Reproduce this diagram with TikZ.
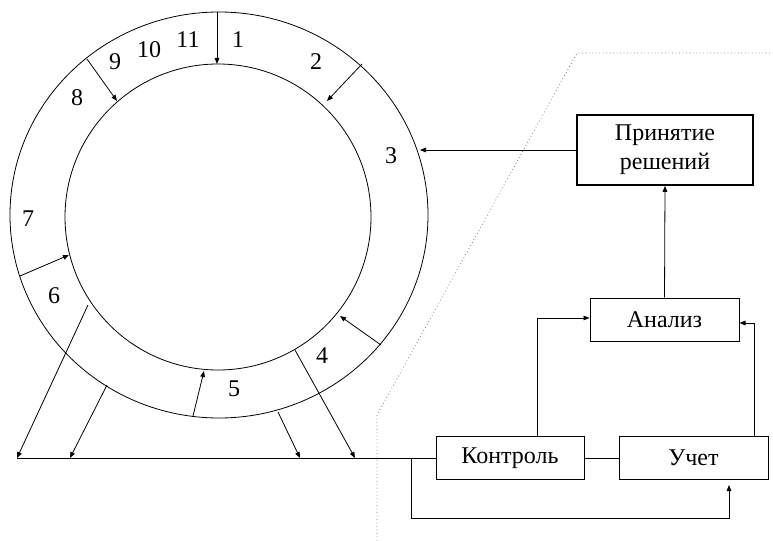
\documentclass[tikz,border=0pt]{standalone}
\usepackage{fontspec}
\setmainfont{Liberation Serif}
\usetikzlibrary{arrows.meta,calc}
\begin{document}
\begin{tikzpicture}[x=0.75pt,y=-0.75pt,
  every node/.style={font=\fontsize{18}{21.5}\selectfont, inner sep=0pt},
  box/.style={draw, line width=0.75pt, minimum height=32.25pt, align=center},
  bigbox/.style={draw, line width=1.4pt, minimum width=132pt, minimum height=52.5pt, align=center},
  arr/.style={-{Triangle[length=4.5pt,width=3.5pt]}, line width=0.6pt},
  ln/.style={line width=0.6pt},
  dotl/.style={gray, line width=0.6pt, dotted}]
\useasboundingbox (0,0) rectangle (773,541);

% rings
\draw[ln] (219,215) ellipse [x radius=209, y radius=203];
\draw[ln] (218,217) circle [radius=153];

% boxes
\node[bigbox] (p) at (665,150) {Принятие\\решений};
\node[box, minimum width=111.75pt] (a) at (664.5,319.5) {Анализ};
\node[box, minimum width=111pt] (k) at (510,458) {Контроль};
\node[box, minimum width=111.75pt] (u) at (693.5,458) {Учет};

% ring points
\coordinate (o1) at (217,12);   \coordinate (i1) at (217,64);
\coordinate (o2) at (87,59);    \coordinate (i2) at (117,101);
\coordinate (o3) at (362,64);   \coordinate (i3) at (327,101);
\coordinate (o4) at (20,276);   \coordinate (i4) at (69,255);
\coordinate (i5) at (88,305);   \coordinate (l1) at (17,458);
\coordinate (o6) at (107,385);  \coordinate (l2) at (70,458);
\coordinate (o7) at (193,416);  \coordinate (i7) at (204,371);
\coordinate (o8) at (278,412);  \coordinate (l3) at (300,458);
\coordinate (i9) at (295,350);  \coordinate (l4) at (355,458);
\coordinate (o10) at (381,345); \coordinate (i10) at (340,316);
\coordinate (o11) at (420,150);

% arrows on ring
\draw[arr] (o1) -- (i1);
\draw[arr] (o2) -- (i2);
\draw[arr] (o3) -- (i3);
\draw[arr] (o4) -- (i4);
\draw[arr] (i5) -- (l1);
\draw[arr] (o6) -- (l2);
\draw[arr] (o7) -- (i7);
\draw[arr] (o8) -- (l3);
\draw[arr] (i9) -- (l4);
\draw[arr] (o10) -- (i10);
\draw[arr] (p.west) -- (o11);

% labels
\node (n1) at (238,40) {1};
\node (n2) at (316,62) {2};
\node (n3) at (391,156) {3};
\node (n4) at (322,356) {4};
\node (n5) at (234,389) {5};
\node (n6) at (54,296) {6};
\node (n7) at (28,219) {7};
\node (n8) at (77,98) {8};
\node (n9) at (115,62) {9};
\node (n10) at (149,50) {10};
\node (n11) at (188,40) {11};

% control loop
\draw[ln] (l1) -- (k.west);
\draw[ln] (k.east) -- (u.west);
\draw[arr] (a.north) -- (p.south);
\draw[arr] ($(k.north)+(27,0)$) |- ($(a.west)+(0,-1.5)$);
\draw[arr] ($(u.north)+(60.5,0)$) |- ($(a.east)+(0,3.5)$);
\coordinate (j) at (411,458);
\coordinate (lb) at (411,518);
\coordinate (ut) at (729,485);
\draw[arr] (j) -- (lb) -| (ut);

% dotted boundary
\coordinate (d0) at (770,53);
\coordinate (d1) at (577,53);
\coordinate (d2) at (377,415);
\coordinate (d3) at (377,541);
\draw[dotl] (d0) -- (d1) -- (d2) -- (d3);
\end{tikzpicture}
\end{document}
